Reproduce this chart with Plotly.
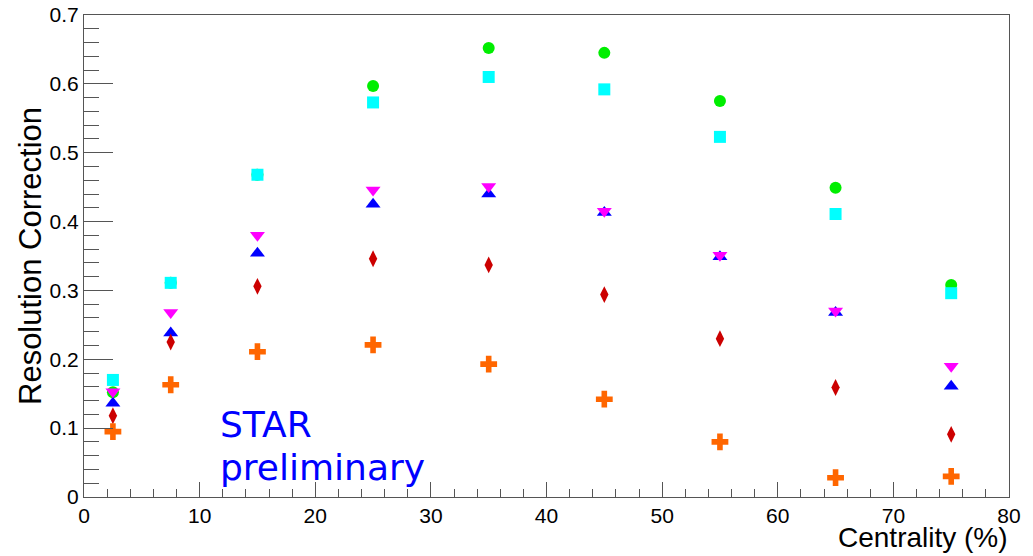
import plotly.graph_objects as go

# Centrality bin centres (%)
centrality = [2.5, 7.5, 15, 25, 35, 45, 55, 65, 75]

# Resolution correction per harmonic / method
res_green = [0.152, 0.311, 0.468, 0.597, 0.652, 0.645, 0.575, 0.449, 0.308]
res_cyan = [0.170, 0.311, 0.468, 0.573, 0.610, 0.592, 0.523, 0.411, 0.296]
res_blue = [0.136, 0.238, 0.354, 0.425, 0.440, 0.413, 0.349, 0.268, 0.161]
res_magenta = [0.153, 0.268, 0.380, 0.446, 0.451, 0.415, 0.351, 0.270, 0.190]
res_red = [0.118, 0.225, 0.306, 0.346, 0.337, 0.294, 0.230, 0.159, 0.091]
res_orange = [0.095, 0.163, 0.211, 0.221, 0.193, 0.142, 0.080, 0.028, 0.030]

series = [
    (res_green, "#00ee00", "circle", 12),
    (res_cyan, "#00ffff", "square", 12),
    (res_blue, "#0000ff", "triangle-up", 13),
    (res_magenta, "#ff00ff", "triangle-down", 13),
    (res_red, "#cc0000", "diamond-tall", 12),
    (res_orange, "#ff6600", "cross", 14),
]

fig = go.Figure()
for vals, color, symbol, size in series:
    fig.add_trace(go.Scatter(
        x=centrality, y=vals, mode="markers",
        marker=dict(color=color, symbol=symbol, size=size, line=dict(width=0)),
        showlegend=False, cliponaxis=True,
    ))

axis_font = dict(family="Liberation Sans, Arial, sans-serif", size=21, color="black")
frame_color = "#555555"

fig.update_xaxes(
    range=[0, 80], dtick=10, tick0=0,
    ticks="inside", ticklen=15, tickwidth=1, tickcolor=frame_color,
    minor=dict(dtick=2, ticks="inside", ticklen=8, tickcolor=frame_color),
    showline=True, mirror=True, linecolor=frame_color, linewidth=1,
    showgrid=False, zeroline=False, tickfont=axis_font, automargin=False,
)
fig.update_yaxes(
    range=[0, 0.7], dtick=0.1, tick0=0,
    ticks="inside", ticklen=29, tickwidth=1, tickcolor=frame_color,
    minor=dict(dtick=0.02, ticks="inside", ticklen=15, tickcolor=frame_color),
    showline=True, mirror=True, linecolor=frame_color, linewidth=1,
    showgrid=False, zeroline=False, tickfont=axis_font, automargin=False,
)

title_font = dict(family="Liberation Sans, Arial, sans-serif", size=28, color="black")
star_font = dict(family="DejaVu Sans, sans-serif", size=36, color="#0000ff")

fig.add_annotation(
    text="Centrality (%)", xref="paper", yref="paper", x=1, y=0,
    xanchor="right", yanchor="bottom", yshift=-57, showarrow=False,
    font=title_font, borderpad=0,
)
fig.add_annotation(
    text="Resolution Correction", xref="paper", yref="paper", x=0, y=0.5,
    xanchor="center", yanchor="middle", xshift=-54, textangle=-90,
    showarrow=False, font=dict(title_font, size=31),
)
fig.add_annotation(
    text="STAR", xref="x", yref="y", x=11.6, y=0.105,
    xanchor="left", yanchor="middle", showarrow=False, font=star_font,
)
fig.add_annotation(
    text="preliminary", xref="x", yref="y", x=11.6, y=0.043,
    xanchor="left", yanchor="middle", showarrow=False, font=star_font,
)

fig.update_layout(
    width=1033, height=556,
    margin=dict(l=84, r=24, t=15, b=59, autoexpand=False),
    paper_bgcolor="white", plot_bgcolor="white",
)

fig.write_html("out.html")
